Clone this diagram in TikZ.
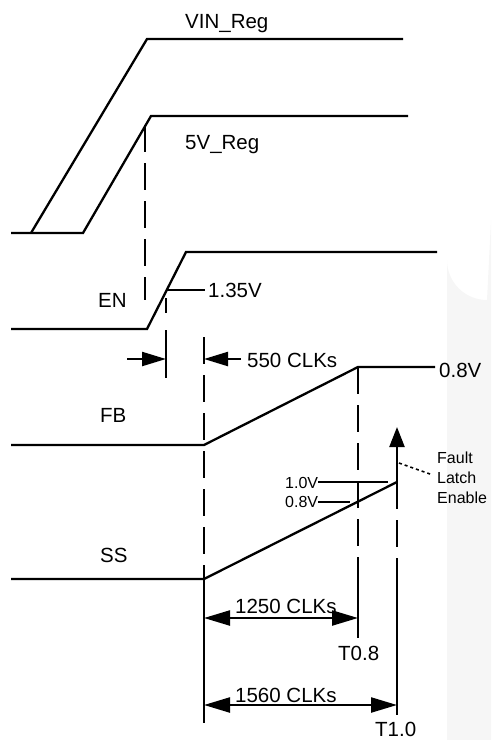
\documentclass[tikz,border=0pt]{standalone}
\usepackage{fontspec}
\setmainfont{Liberation Sans}
\usetikzlibrary{arrows.meta}
\newcommand\lbfont{\fontsize{20.5}{24}\selectfont}
\newcommand\smfont{\fontsize{16}{20}\selectfont}
\definecolor{wm}{RGB}{246,246,246}
\tikzset{
  sig/.style={line width=2.3pt, line join=miter},
  dsh/.style={line width=2.3pt, dash pattern=on 27pt off 11pt},
  lbl/.style={font=\lbfont, inner sep=0pt, anchor=base west},
  sml/.style={font=\smfont, inner sep=0pt, anchor=base west},
  dimarrow/.style={line width=2.3pt, {Triangle[length=26pt,width=15pt]}-{Triangle[length=26pt,width=15pt]}},
  onearrow/.style={line width=2.3pt, -{Triangle[length=24pt,width=14pt]}},
  uparrow/.style={line width=2.3pt, -{Triangle[length=20pt,width=15pt]}},
  dotln/.style={line width=1.6pt, dash pattern=on 3pt off 3pt}
}
\begin{document}
\begin{tikzpicture}[x=1pt,y=-1pt]
\useasboundingbox (0,0) rectangle (491,740);
% faint watermark
\fill[wm] (447,740) -- (447,260) arc[start angle=180,end angle=90,radius=40] -- (491,220) -- (491,740) -- cycle;
% coordinates
\coordinate (a0) at (11,233);
\coordinate (vinS) at (31,233);
\coordinate (vinT) at (147,39);
\coordinate (vinE) at (403,39);
\coordinate (fvS) at (83,233);
\coordinate (fvT) at (151,116);
\coordinate (fvE) at (408,116);
\coordinate (enA) at (11,329);
\coordinate (enB) at (147,329);
\coordinate (enT) at (186,252);
\coordinate (enE) at (437,252);
\coordinate (thr) at (167,290);
\coordinate (thrE) at (205,290);
\coordinate (fbA) at (11,445);
\coordinate (fbB) at (204,445);
\coordinate (fbT) at (358,367);
\coordinate (fbE) at (435,367);
\coordinate (ssA) at (11,579);
\coordinate (ssB) at (204,579);
\coordinate (ssT) at (397,482);
% signals
\draw[sig] (a0) -- (fvS) -- (fvT) -- (fvE);
\draw[sig] (vinS) -- (vinT) -- (vinE);
\draw[sig] (enA) -- (enB) -- (enT) -- (enE);
\draw[sig] (thr) -- (thrE);
\draw[sig] (fbA) -- (fbB) -- (fbT) -- (fbE);
\draw[sig] (ssA) -- (ssB) -- (ssT);
% labels
\node[lbl] (lvin) at (185,28) {VIN\_Reg};
\node[lbl] (l5v) at (185,149) {5V\_Reg};
\node[lbl] (len) at (98,307) {EN};
\node[lbl] (l135) at (208,297) {1.35V};
\node[lbl] (l550) at (247,367) {550 CLKs};
\node[lbl] (l08) at (439,377) {0.8V};
\node[lbl] (lfb) at (100,422) {FB};
\node[lbl] (lss) at (100,562) {SS};
\node[lbl] (l1250) at (235,613) {1250 CLKs};
\node[lbl] (l1560) at (235,702) {1560 CLKs};
\node[lbl] (lt08) at (338,660) {T0.8};
\node[lbl] (lt10) at (375,736) {T1.0};
\node[sml] (l10) at (285,488) {1.0V};
\node[sml] (l08s) at (285,507) {0.8V};
\node[sml] (lf1) at (437,463) {Fault};
\node[sml] (lf2) at (437,483) {Latch};
\node[sml] (lf3) at (437,503) {Enable};
% dashed / timing lines
\draw[dsh] (145,125) -- (145,300);
\draw[sig] (166,298) -- (166,313);
\draw[sig] (166,330) -- (166,378);
\draw[onearrow] (127,359) -- (166,359);
\draw[dsh] (204,337) -- (ssB);
\draw[sig] (ssB) -- (204,723);
\draw[onearrow] (241,359) -- (204,359);
\draw[dsh] (fbT) -- (358,580);
\draw[sig] (358,580) -- (358,638);
\draw[uparrow] (ssT) -- (397,427);
\draw[dsh] (ssT) -- (397,580);
\draw[sig] (397,580) -- (397,715);
\draw[dimarrow] (204,618) -- (358,618);
\draw[dimarrow] (204,705) -- (397,705);
\draw[sig] (318,482) -- (388,482);
\draw[sig] (318,502) -- (350,502);
\draw[dotln] (399,463) -- (430,474);
\end{tikzpicture}
\end{document}
